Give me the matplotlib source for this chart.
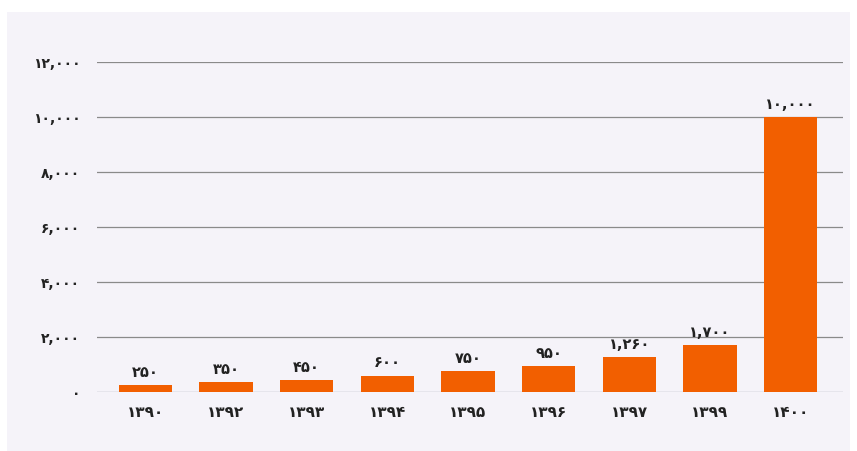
import matplotlib.pyplot as plt
from matplotlib.patches import Rectangle

fa = str.maketrans('0123456789', '۰۱۲۳۴۵۶۷۸۹')

def fa_num(v):
    return f'{int(v):,}'.translate(fa)

years = ['1390', '1392', '1393', '1394', '1395', '1396', '1397', '1399', '1400']
values = [250, 350, 450, 600, 750, 950, 1260, 1700, 10000]
yticks = [0, 2000, 4000, 6000, 8000, 10000, 12000]

plt.rcParams['font.family'] = ['DejaVu Sans']
fig = plt.figure(figsize=(8.57, 4.52), dpi=100)
fig.patch.set_facecolor('white')
fig.patches.append(Rectangle((7 / 857, 0), 843 / 857, 439 / 452, transform=fig.transFigure,
                             facecolor='#f5f3f9', edgecolor='none', zorder=-10))
ax = fig.add_axes([97 / 857, 59 / 452, 746 / 857, 330 / 452])
ax.set_zorder(5)
ax.set_facecolor('none')

x = range(len(years))
ax.bar(x, values, width=0.66, color='#f25f00', zorder=3)
for i, v in zip(x, values):
    ax.text(i, v + 220, fa_num(v), ha='center', va='bottom', fontsize=10.5,
            fontweight='bold', color='#222222')

ax.set_xlim(-0.6, 8.65)
ax.set_ylim(0, 12000)
ax.set_yticks(yticks)
ax.set_yticklabels([fa_num(t) for t in yticks], fontsize=10, fontweight='bold', color='#222222')
ax.set_xticks(list(x))
ax.set_xticklabels([y.translate(fa) for y in years], fontsize=11, fontweight='bold', color='#222222')
ax.tick_params(axis='y', length=0, pad=12)
ax.tick_params(axis='x', length=0, pad=9)
ax.grid(axis='y', color='#8a8a8a', linewidth=0.9, zorder=1)
for s in ax.spines.values():
    s.set_visible(False)
ax.axhline(0, color='#e6eaf5', linewidth=1, zorder=2)

fig.savefig('out.png', dpi=100)
